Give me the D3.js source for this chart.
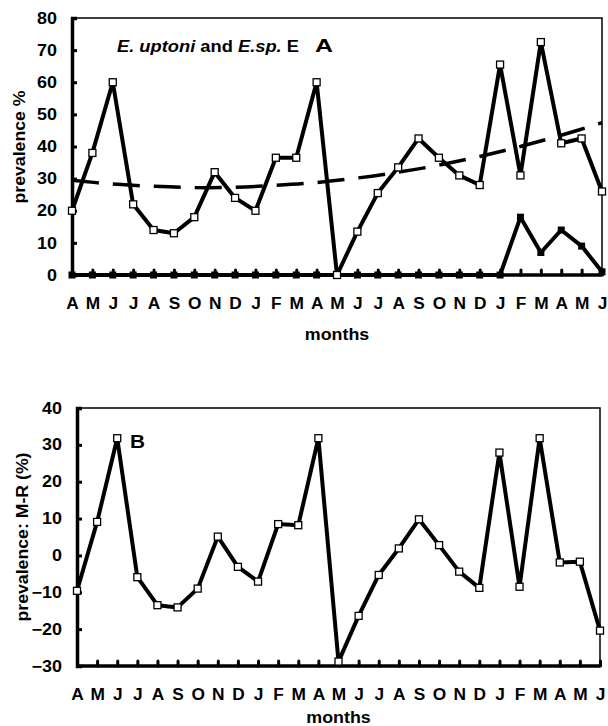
<!DOCTYPE html>
<html><head><meta charset="utf-8">
<script src="https://cdn.jsdelivr.net/npm/d3@7"></script>
<style>
body{margin:0;background:#fff;}
text{font-family:"Liberation Sans",Arial,sans-serif;font-weight:bold;fill:#000;}
</style></head>
<body><svg id="c" width="608" height="726"></svg>
<script>
const months = ["A","M","J","J","A","S","O","N","D","J","F","M","A","M","J","J","A","S","O","N","D","J","F","M","A","M","J"];
const uptoni = [20,38,60,22,14,13,18,32,24,20,36.5,36.5,60,0,13.5,25.5,33.5,42.5,36.5,31,28,65.5,31,72.5,41,42.5,26];
const espE = [0,0,0,0,0,0,0,0,0,0,0,0,0,0,0,0,0,0,0,0,0,0,18,7,14,9,1];
const trendIdx = [0,2,4,6,8,10,12,14,16,18,20,22,24,26];
const trend = [29.5,28.3,27.6,27.2,27.3,27.9,28.8,30.2,32.0,34.2,36.9,40.0,43.5,47.4];
const diffMR = [-9.6,9.1,31.8,-5.9,-13.5,-14.1,-9.0,5.1,-3.1,-7.1,8.5,8.2,31.8,-28.8,-16.4,-5.3,1.9,9.8,2.8,-4.4,-8.8,27.9,-8.5,31.8,-1.9,-1.7,-20.4];
const ticksA = [0,10,20,30,40,50,60,70,80];
const ticksB = [-30,-20,-10,0,10,20,30,40];

const svg = d3.select("#c");
const idx = d3.range(months.length);

function stretch(sel, f){
  sel.each(function(){
    const w = this.getComputedTextLength();
    d3.select(this).attr("textLength", w*f).attr("lengthAdjust","spacingAndGlyphs");
  });
}

function panel(o){
  const x = d3.scalePoint().domain(idx).range([o.x0,o.x1]);
  const y = d3.scaleLinear().domain(o.dom).range([o.y0,o.y1]);
  const g = svg.append("g");
  g.append("path").attr("d",`M${o.x0},${o.y1}H${o.x1}V${o.y0}`).attr("fill","none").attr("stroke","#000").attr("stroke-width",1.5);
  const ya = g.append("g").attr("transform",`translate(${o.x0},0)`)
    .call(d3.axisLeft(y).tickValues(o.ticks).tickSize(-5).tickPadding(15).tickFormat(d3.format("d")));
  ya.select(".domain").attr("stroke-width",3.5);
  ya.selectAll(".tick line").attr("stroke-width",3);
  ya.selectAll(".tick text").attr("font-size",16).attr("font-family",null);
  stretch(ya.selectAll(".tick text"),1.12);
  const xa = g.append("g").attr("transform",`translate(0,${o.y0})`)
    .call(d3.axisBottom(x).tickSize(-5).tickPadding(22.5).tickFormat(i=>months[i]));
  xa.select(".domain").attr("stroke-width",3.5).attr("d",`M${o.x0},0H${o.x1}`);
  xa.selectAll(".tick line").attr("stroke-width",3).attr("stroke-linecap","round");
  xa.selectAll(".tick text").attr("font-size",16).attr("font-family",null);
  stretch(xa.selectAll(".tick text"),1.08);
  const m = g.append("text").attr("x",(o.x0+o.x1)/2).attr("y",o.monthsY).attr("text-anchor","middle").attr("font-size",17).text("months");
  stretch(m,1.05);
  const yt = g.append("text").attr("transform",`translate(${o.ytx},${o.yty}) rotate(-90)`).attr("text-anchor","middle").attr("font-size",17).text(o.ytitle);
  stretch(yt,1.04);
  return {x,y,g};
}

// Panel A
const A = panel({x0:72,x1:602,y0:275,y1:18,dom:[0,80],ticks:ticksA,monthsY:340,ytitle:"prevalence %",ytx:25,yty:147});
const lineA = d3.line().x((d,i)=>A.x(i)).y(d=>A.y(d));
A.g.append("path").datum(trend).attr("fill","none").attr("stroke","#000").attr("stroke-width",3.5)
  .attr("stroke-dasharray","27,14")
  .attr("d",d3.line().curve(d3.curveCatmullRom).x((d,i)=>A.x(trendIdx[i])).y(d=>A.y(d)));
A.g.append("path").datum(espE).attr("fill","none").attr("stroke","#000").attr("stroke-width",4).attr("stroke-linejoin","round").attr("d",lineA);
A.g.selectAll(".fm").data(espE).join("rect").attr("x",(d,i)=>A.x(i)-3.5).attr("y",d=>A.y(d)-3.5).attr("width",7).attr("height",7).attr("fill","#000");
A.g.append("path").datum(uptoni).attr("fill","none").attr("stroke","#000").attr("stroke-width",4).attr("stroke-linejoin","round").attr("d",lineA);
A.g.selectAll(".om").data(uptoni).join("rect").attr("x",(d,i)=>A.x(i)-3.5).attr("y",d=>A.y(d)-3.5).attr("width",7).attr("height",7).attr("fill","#fff").attr("stroke","#000").attr("stroke-width",1.3);
const t = A.g.append("text").attr("x",117).attr("y",52).attr("font-size",16);
t.append("tspan").attr("font-style","italic").text("E. uptoni");
t.append("tspan").text(" and ");
t.append("tspan").attr("font-style","italic").text("E.sp.");
t.append("tspan").text(" E");
t.attr("textLength",182).attr("lengthAdjust","spacingAndGlyphs");
A.g.append("text").attr("x",315).attr("y",52).attr("font-size",18).attr("textLength",18).attr("lengthAdjust","spacingAndGlyphs").text("A");

// Panel B
const B = panel({x0:77,x1:600,y0:666,y1:408,dom:[-30,40],ticks:ticksB,monthsY:723,ytitle:"prevalence: M-R (%)",ytx:28,yty:537});
const lineB = d3.line().x((d,i)=>B.x(i)).y(d=>B.y(d));
B.g.append("path").datum(diffMR).attr("fill","none").attr("stroke","#000").attr("stroke-width",4).attr("stroke-linejoin","round").attr("d",lineB);
B.g.selectAll(".om").data(diffMR).join("rect").attr("x",(d,i)=>B.x(i)-3.5).attr("y",d=>B.y(d)-3.5).attr("width",7).attr("height",7).attr("fill","#fff").attr("stroke","#000").attr("stroke-width",1.3);
B.g.append("text").attr("x",130).attr("y",448).attr("font-size",18).attr("textLength",15).attr("lengthAdjust","spacingAndGlyphs").text("B");
</script></body></html>
